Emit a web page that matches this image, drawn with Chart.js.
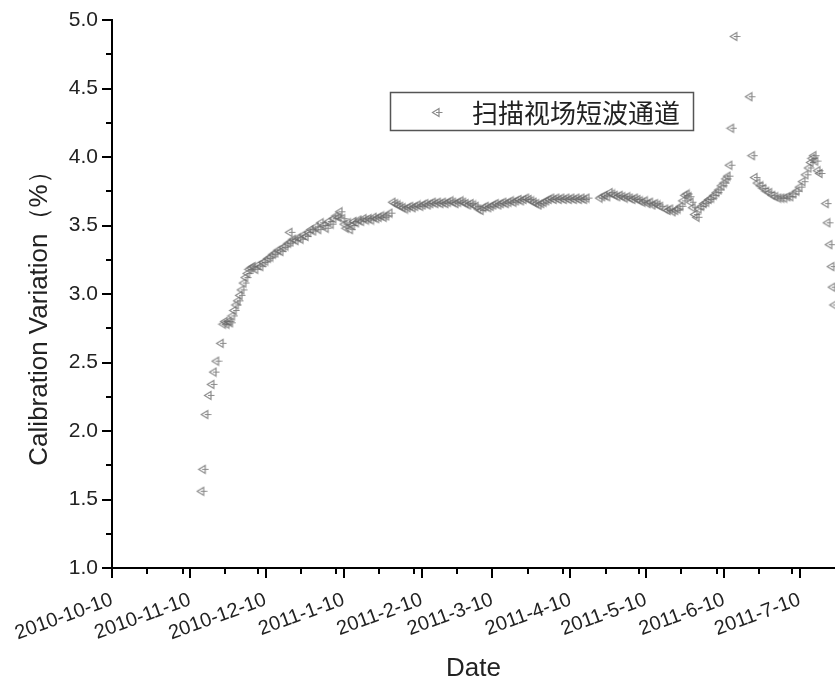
<!DOCTYPE html>
<html>
<head>
<meta charset="utf-8">
<script src="https://cdn.jsdelivr.net/npm/chart.js@4.4.1/dist/chart.umd.min.js"></script>
<style>
  body { margin: 0; background: #fff; }
  #wrap { width: 835px; height: 688px; }
</style>
</head>
<body>
<div id="wrap"><canvas id="calChart"></canvas></div>
<script>
// x values are days counted from 2010-10-10
const startDate = "2010-10-10";

const dayOffsets = [
  35.6, 36.2, 37.2, 38.5, 39.6, 40.5, 41.5, 43.3, 44.2, 44.9, 45.6, 46.3, 47.0, 47.8, 48.5, 49.3,
  50.0, 50.8, 51.5, 52.3, 53.0, 53.8, 54.5, 55.3, 56.0, 57, 58, 59, 60, 61, 62, 63, 64, 65, 66,
  67, 68, 69, 70, 70.6, 71, 72, 73, 74, 75, 76, 77, 78, 79, 80, 81, 82, 83, 84, 85, 86, 87, 88,
  89, 90, 90.5, 91.5, 92.3, 93, 93.8, 94.6, 95.4, 96, 97, 98, 99, 100, 101, 102, 103, 104, 105,
  106, 107, 108, 109, 110.3,
  111.5, 112.5, 113.5, 114.5, 115.5, 116.5, 117.5, 118.5, 119.5, 120.5, 121.5, 122.5, 123.5,
  124.5, 125.5, 126.5, 127.5, 128.5, 129.5, 130.5, 131.5, 132.5, 133.5, 134.5, 135.5, 136.5,
  137.5, 138.5, 139.5, 140.5, 141.5, 142.5, 143.5, 144.5, 145.5, 146.5, 147.5, 148.5, 149.5,
  150.5, 151.5, 152.5, 153.5, 154.5, 155.5, 156.5, 157.5, 158.5, 159.5, 160.5, 161.5, 162.5,
  163.5, 164.5, 165.5, 166.5, 167.5, 168.5, 169.5, 170.5, 171.5, 172.5, 173.5, 174.5, 175.5,
  176.5, 177.5, 178.5, 179.5, 180.5, 181.5, 182.5, 183.5, 184.5, 185.5, 186.5, 187.5, 188.5,
  193.7, 194.7, 195.7, 196.7, 197.7, 198.7, 199.7, 200.7, 201.7, 202.7, 203.7, 204.7, 205.7,
  206.7, 207.7, 208.7, 209.7, 210.7, 211.7, 212.7, 213.7, 214.7, 215.7, 216.7, 217.7,
  219.7, 220.7, 221.7, 222.7, 223.7, 224.7, 225.7, 226.7, 227.5, 228.3, 229, 229.8, 230.6,
  231.4, 232.2, 233, 234, 235, 236, 237, 238, 239, 240, 241, 242, 243, 243.8, 244.5,
  245.2, 245.9, 247.2, 253.2, 254.2,
  255.2, 256.3, 257.5, 258.6, 259.8, 261, 262.2, 263.4, 264.6, 265.8, 267, 268.2, 269.4, 270.6,
  271.8, 273, 274.2, 275.4, 276.6, 277.4, 278, 278.6, 279.3, 280.2, 281,
  283.5, 284.1, 284.9, 285.7, 286.1, 286.7
];

const variation = [
  1.56, 1.72, 2.12, 2.26, 2.34, 2.43, 2.51, 2.64, 2.78, 2.80, 2.78, 2.80, 2.79, 2.84, 2.88, 2.92,
  2.95, 2.99, 3.03, 3.08, 3.12, 3.15, 3.18, 3.19, 3.20, 3.18, 3.21, 3.20, 3.23, 3.24, 3.26, 3.27, 3.29, 3.30, 3.32,
  3.31, 3.34, 3.35, 3.37, 3.45, 3.38, 3.40, 3.39, 3.41, 3.40, 3.43, 3.42, 3.45, 3.47, 3.46, 3.49, 3.47, 3.52, 3.50, 3.48, 3.53, 3.51, 3.55,
  3.57, 3.56, 3.60, 3.55, 3.51, 3.48, 3.52, 3.47, 3.50, 3.53, 3.52, 3.54, 3.53, 3.55, 3.54, 3.55, 3.54, 3.56, 3.55,
  3.56, 3.57, 3.56, 3.57, 3.59,
  3.67, 3.66, 3.65, 3.64, 3.63, 3.62, 3.63, 3.64, 3.63, 3.64, 3.65, 3.64, 3.65,
  3.66, 3.65, 3.66, 3.67, 3.66, 3.67, 3.66, 3.67, 3.66, 3.67, 3.68, 3.67, 3.66,
  3.67, 3.68, 3.67, 3.66, 3.65, 3.66, 3.65, 3.64, 3.62, 3.61, 3.63, 3.64, 3.63,
  3.64, 3.65, 3.66, 3.65, 3.66, 3.67, 3.66, 3.67, 3.68, 3.67, 3.68, 3.69, 3.68,
  3.69, 3.70, 3.69, 3.68, 3.67, 3.66, 3.65, 3.66, 3.67, 3.68, 3.69, 3.70, 3.69,
  3.70, 3.69, 3.70, 3.69, 3.70, 3.69, 3.70, 3.69, 3.70, 3.69, 3.70, 3.69, 3.70,
  3.70, 3.71, 3.72, 3.71, 3.74, 3.73, 3.72, 3.71, 3.72, 3.71, 3.70, 3.71, 3.70,
  3.69, 3.70, 3.69, 3.68, 3.67, 3.68, 3.66, 3.67, 3.65, 3.66, 3.65, 3.64,
  3.62, 3.61, 3.62, 3.60, 3.61, 3.62, 3.64, 3.68, 3.72, 3.73, 3.71, 3.67, 3.63,
  3.58, 3.56, 3.62, 3.64, 3.66, 3.67, 3.69, 3.70, 3.72, 3.74, 3.76, 3.79, 3.81, 3.84, 3.86,
  3.94, 4.21, 4.88, 4.44, 4.01,
  3.85, 3.81, 3.79, 3.77, 3.75, 3.74, 3.72, 3.71, 3.70, 3.70, 3.70, 3.71, 3.71, 3.73,
  3.75, 3.78, 3.82, 3.87, 3.92, 3.96, 3.99, 4.01, 3.97, 3.90, 3.88,
  3.66, 3.52, 3.36, 3.20, 3.05, 2.92
];

const xTickLabels = ["2010-10-10", "2010-11-10", "2010-12-10", "2011-1-10", "2011-2-10",
  "2011-3-10", "2011-4-10", "2011-5-10", "2011-6-10", "2011-7-10"];
const xMinorDates = ["2010-10-24", "2010-11-7", "2010-11-24", "2010-12-7", "2010-12-24",
  "2011-1-7", "2011-1-24", "2011-2-7", "2011-2-24", "2011-3-24", "2011-4-7", "2011-4-24",
  "2011-5-7", "2011-5-24", "2011-6-7", "2011-6-24", "2011-7-7"];
const yTicks = [1.0, 1.5, 2.0, 2.5, 3.0, 3.5, 4.0, 4.5, 5.0];
const yMinorTicks = [1.25, 1.75, 2.25, 2.75, 3.25, 3.75, 4.25, 4.75];
const seriesName = "扫描视场短波通道";
const yTitle = "Calibration Variation（%）";

function dayOf(str) {
  const p = str.split("-").map(Number);
  const s = startDate.split("-").map(Number);
  return (Date.UTC(p[0], p[1] - 1, p[2]) - Date.UTC(s[0], s[1] - 1, s[2])) / 86400000;
}

const xTickDays = xTickLabels.map(dayOf);
const xMinorDays = xMinorDates.map(dayOf);
const points = dayOffsets.map((d, i) => ({ x: d, y: variation[i] }));

// left-pointing triangle with a tail, like the original symbol
function makeMarker() {
  const c = document.createElement("canvas");
  c.width = 12;
  c.height = 11;
  const g = c.getContext("2d");
  g.strokeStyle = "rgba(105,105,105,0.78)";
  g.lineWidth = 1.2;
  g.beginPath();
  g.moveTo(1.5, 5.5);
  g.lineTo(8, 1.5);
  g.lineTo(8, 9.5);
  g.closePath();
  g.moveTo(5, 5.5);
  g.lineTo(11.5, 5.5);
  g.stroke();
  return c;
}
const marker = makeMarker();

const minorTicks = {
  id: "minorTicks",
  afterDraw(chart) {
    const { ctx } = chart;
    const x = chart.scales.x;
    const y = chart.scales.y;
    ctx.save();
    ctx.strokeStyle = "#000";
    ctx.lineWidth = 2;
    ctx.beginPath();
    xMinorDays.forEach((d) => {
      const px = Math.round(x.getPixelForValue(d));
      ctx.moveTo(px, x.top);
      ctx.lineTo(px, x.top + 6);
    });
    yMinorTicks.forEach((v) => {
      const py = Math.round(y.getPixelForValue(v));
      ctx.moveTo(y.right, py);
      ctx.lineTo(y.right - 6, py);
    });
    ctx.stroke();
    ctx.restore();
  },
};

// y title sits a bit below the axis middle in the original
const sideTitle = {
  id: "sideTitle",
  afterDraw(chart) {
    const { ctx } = chart;
    const y = chart.scales.y;
    ctx.save();
    ctx.translate(40, (y.top + y.bottom) / 2 + 18);
    ctx.rotate(-Math.PI / 2);
    ctx.font = "26px 'Liberation Sans', Arial, sans-serif";
    ctx.fillStyle = "#222";
    ctx.textAlign = "center";
    ctx.textBaseline = "middle";
    ctx.fillText(yTitle, 0, 0);
    ctx.restore();
  },
};

const boxLegend = {
  id: "boxLegend",
  afterDraw(chart) {
    const { ctx } = chart;
    ctx.save();
    ctx.strokeStyle = "#555";
    ctx.lineWidth = 1.5;
    ctx.strokeRect(390.5, 92.5, 303, 38);
    ctx.drawImage(marker, 431, 107);
    ctx.fillStyle = "#222";
    ctx.font = "26px 'Noto Sans CJK SC'";
    ctx.textBaseline = "middle";
    ctx.fillText(seriesName, 472, 113);
    ctx.restore();
  },
};

Chart.defaults.font.family = "'Liberation Sans', Arial, sans-serif";
Chart.defaults.color = "#222";

new Chart(document.getElementById("calChart"), {
  type: "scatter",
  data: {
    datasets: [
      {
        label: seriesName,
        data: points,
        pointStyle: marker,
        pointRadius: 4,
        showLine: false,
      },
    ],
  },
  options: {
    responsive: true,
    maintainAspectRatio: false,
    animation: false,
    layout: { autoPadding: false, padding: { top: 20, right: 0, left: 0, bottom: 0 } },
    plugins: {
      legend: { display: false },
      tooltip: { enabled: false },
    },
    scales: {
      x: {
        type: "linear",
        min: 0,
        max: 287,
        afterBuildTicks: (scale) => {
          scale.ticks = xTickDays.map((v) => ({ value: v }));
        },
        afterFit: (scale) => {
          scale.height = 120;
          scale.paddingLeft = 0;
          scale.paddingRight = 0;
        },
        ticks: {
          autoSkip: false,
          minRotation: 20,
          maxRotation: 20,
          padding: 10,
          font: { size: 20 },
          callback: (value, index) => xTickLabels[index],
        },
        grid: {
          drawOnChartArea: false,
          tickLength: 10,
          tickColor: "#000",
          lineWidth: 2,
        },
        border: { display: true, color: "#000", width: 2 },
        title: {
          display: true,
          text: "Date",
          font: { size: 26 },
          padding: { top: 0, bottom: 4 },
        },
      },
      y: {
        min: 1,
        max: 5,
        afterBuildTicks: (scale) => {
          scale.ticks = yTicks.map((v) => ({ value: v }));
        },
        afterFit: (scale) => {
          scale.width = 112;
          scale.paddingTop = 0;
          scale.paddingBottom = 0;
        },
        ticks: {
          padding: 4,
          font: { size: 21 },
          callback: (value) => value.toFixed(1),
        },
        grid: {
          drawOnChartArea: false,
          tickLength: 10,
          tickColor: "#000",
          lineWidth: 2,
        },
        border: { display: true, color: "#000", width: 2 },
      },
    },
  },
  plugins: [minorTicks, sideTitle, boxLegend],
});
</script>
</body>
</html>
